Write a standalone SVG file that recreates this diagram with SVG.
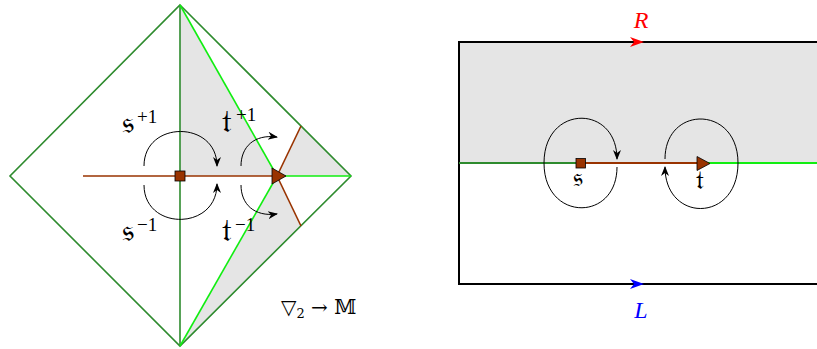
<svg xmlns="http://www.w3.org/2000/svg" width="817" height="349" viewBox="0 0 817 349">
<style>
.dg{stroke:#2e8b2e;stroke-width:1.6;fill:none}
.lg{stroke:#11ee11;stroke-width:1.6;fill:none}
.br{stroke:#993300;stroke-width:1.6;fill:none}
.sh{fill:#e5e5e5;stroke:none}
.loop{stroke:#000;stroke-width:1;fill:none}
.node{fill:#993300;stroke:#000;stroke-width:0.8}
.lbl{font-family:"DejaVu Serif","DejaVu Sans","Liberation Serif",serif;fill:#000}
.sup{font-family:"Liberation Serif","DejaVu Serif",serif;fill:#000}
.rl{font-style:italic;font-family:"Liberation Serif","DejaVu Serif",serif;font-size:24px}
</style>
<defs>
<marker id="ah" markerUnits="userSpaceOnUse" markerWidth="10" markerHeight="10" viewBox="0 0 10 10" refX="9" refY="5" orient="auto">
<path d="M0,1 L10,5 L0,9 L3,5 z" fill="#000"/>
</marker>
</defs>
<g id="left-panel">
<g id="shading">
<polygon class="sh" points="180,5 180,176 277,176"/>
<polygon class="sh" points="277,176 301,126 351,176"/>
<polygon class="sh" points="277,176 301,226 180,346"/>
</g>
<g id="connectors">
<polygon class="dg" points="180,5 351,176 180,346 10,176"/>
<line class="dg" x1="180" y1="5" x2="180" y2="346"/>
<line class="lg" x1="180" y1="5" x2="277" y2="176"/>
<line class="lg" x1="277" y1="176" x2="180" y2="346"/>
<line class="lg" x1="277" y1="176" x2="351" y2="176"/>
<line class="br" x1="277" y1="176" x2="301" y2="126"/>
<line class="br" x1="277" y1="176" x2="301" y2="226"/>
<line class="br" x1="83" y1="176" x2="280" y2="176"/>
<path class="loop" d="M144,166 C144,120 217,120 217,166" marker-end="url(#ah)"/>
<path class="loop" d="M144,185 C144,231 217,231 217,184" marker-end="url(#ah)"/>
<path class="loop" d="M241,166 C241,147 254,134 277,137" marker-end="url(#ah)"/>
<path class="loop" d="M241,185 C241,204 254,217 277,214" marker-end="url(#ah)"/>
</g>
<g id="node-s-left"><rect class="node" x="175" y="171" width="10" height="10"/></g>
<g id="node-t-left"><polygon class="node" points="272,168 286,176 272,184"/></g>
<g id="labels-left">
<text class="lbl" x="122" y="133" font-size="32">𝔰</text>
<text class="sup" x="137" y="123" font-size="19">+1</text>
<text class="lbl" x="122" y="241" font-size="32">𝔰</text>
<text class="sup" x="137" y="231" font-size="19">−1</text>
<text class="lbl" x="222" y="132" font-size="32">𝔱</text>
<text class="sup" x="236" y="121" font-size="19">+1</text>
<text class="lbl" x="222" y="241" font-size="32">𝔱</text>
<text class="sup" x="235" y="231" font-size="19">−1</text>
<text class="lbl" x="281" y="314" font-size="20">▽<tspan font-size="13" dy="4">2</tspan><tspan dy="-4"> → 𝕄</tspan></text>
</g>
</g>
<g id="right-panel">
<rect class="sh" x="459" y="42" width="360" height="121"/>
<g id="connectors-right">
<polyline points="819,42 459,42 459,284 819,284" fill="none" stroke="#000" stroke-width="2"/>
<line x1="459" y1="163" x2="580" y2="163" stroke="#2e8b2e" stroke-width="2"/>
<line x1="580" y1="163" x2="703" y2="163" stroke="#993300" stroke-width="2"/>
<line x1="703" y1="163" x2="817" y2="163" stroke="#11ee11" stroke-width="2"/>
<path d="M630,37 L644,42 L630,47 L634,42 z" fill="#ff0000"/>
<path d="M630,279 L644,284 L630,289 L634,284 z" fill="#0000ff"/>
<path class="loop" d="M617,167 C617,222 544,222 544,163 C544,104 617,104 617,159" marker-end="url(#ah)"/>
<path class="loop" d="M665,159 C665,105 738,105 738,163 C738,223 665,223 665,167" marker-end="url(#ah)"/>
</g>
<g id="node-s-right"><rect class="node" x="576" y="158.5" width="9.5" height="9.5"/></g>
<g id="node-t-right"><polygon class="node" points="697,156.5 710,163.5 697,170.5"/></g>
<g id="labels-right">
<text class="lbl" x="573" y="186" font-size="26">𝔰</text>
<text class="lbl" x="696" y="189" font-size="26">𝔱</text>
<text class="rl" x="641" y="28" fill="#ff0000" text-anchor="middle">R</text>
<text class="rl" x="641" y="318" fill="#0000ff" text-anchor="middle">L</text>
</g>
</g>
</svg>
